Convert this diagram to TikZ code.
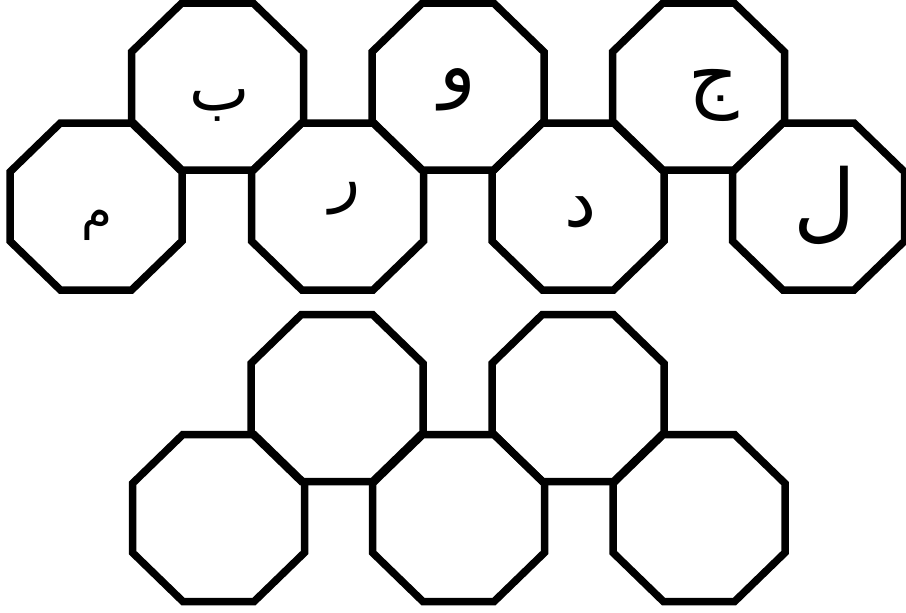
\documentclass[tikz,border=0pt]{standalone}
\usepackage{fontspec}
\newfontfamily\arabicfont[Script=Arabic]{DejaVu Sans}
\TeXXeTstate=1
\begin{document}
\begin{tikzpicture}[x=1pt,y=-1pt,
  octo/.style={draw=black,line width=7.5pt,line join=miter,fill=none},
  letter/.style={font=\arabicfont\fontsize{#1}{#1}\selectfont,inner sep=0pt,outer sep=0pt},
  oct/.pic={\draw[octo] (-86,-34.6) -- (-35.6,-83.5) -- (35.6,-83.5) -- (86,-34.6) -- (86,34.6) -- (35.6,83.5) -- (-35.6,83.5) -- (-86,34.6) -- cycle;}]
\useasboundingbox (0,0) rectangle (906,613);
% top group, upper row
\pic at (217.5,86.5) {oct};
\pic at (458,86.5) {oct};
\pic at (698.5,86.5) {oct};
% top group, lower row
\pic at (96,206.5) {oct};
\pic at (337.5,206.5) {oct};
\pic at (578,206.5) {oct};
\pic at (818.5,206.5) {oct};
% bottom group, upper row
\pic at (337,398) {oct};
\pic at (578,398) {oct};
% bottom group, lower row
\pic at (218.5,518) {oct};
\pic at (458.5,518) {oct};
\pic at (699,518) {oct};
% letters
\node[letter=64] (ba)   at (219.5,106)  {\beginR ب\endR};
\node[letter=76] (waw)  at (458,90)  {\beginR و\endR};
\node[letter=78] (jim)  at (714,95)    {\beginR ج\endR};
\node[letter=50] (mim)  at (96.5,225)  {\beginR م\endR};
\node[letter=64] (ra)   at (345,199) {\beginR ر\endR};
\node[letter=72] (dal)  at (581,212.5) {\beginR د\endR};
\node[letter=86] (lam)  at (825,205.5) {\beginR ل\endR};
\end{tikzpicture}
\end{document}
